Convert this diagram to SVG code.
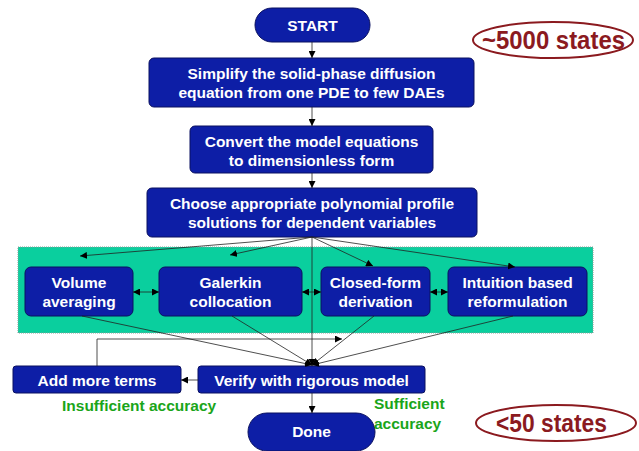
<svg xmlns="http://www.w3.org/2000/svg" width="639" height="451" viewBox="0 0 639 451">
<style>
.box{fill:#0d1ea6;stroke:#0a1060;stroke-width:1}
.t{font-family:"Liberation Sans",Arial,sans-serif;font-weight:bold;font-size:15.5px;fill:#fff;text-anchor:middle}
.g{font-family:"Liberation Sans",Arial,sans-serif;font-weight:bold;font-size:15.5px;fill:#1aa51a}
.r{font-family:"Liberation Sans",Arial,sans-serif;font-weight:bold;font-size:26px;fill:#8b1a1f}
.c{stroke:#222;stroke-width:0.8;fill:none}
</style>
<defs>
<marker id="a" viewBox="0 0 10 10" refX="10" refY="5" markerWidth="7" markerHeight="7" orient="auto-start-reverse" markerUnits="userSpaceOnUse"><path d="M0,0L10,5L0,10z" fill="#000"/></marker>
</defs>
<rect x="18" y="247" width="575" height="86" fill="#0acf9e" stroke="#8a9a96" stroke-width="1" stroke-dasharray="1,1"/>
<g id="start"><rect class="box" x="255" y="8" width="115" height="34" rx="17"/><text class="t" x="312.5" y="31">START</text></g>
<g id="simplify"><rect class="box" x="149" y="58" width="325" height="49" rx="5"/><text class="t" x="311.5" y="79">Simplify the solid-phase diffusion</text><text class="t" x="311.5" y="98">equation from one PDE to few DAEs</text></g>
<g id="convert"><rect class="box" x="190" y="126" width="243" height="47" rx="5"/><text class="t" x="311.5" y="147">Convert the model equations</text><text class="t" x="311.5" y="166">to dimensionless form</text></g>
<g id="choose"><rect class="box" x="147" y="188" width="330" height="49" rx="5"/><text class="t" x="312" y="209">Choose appropriate polynomial profile</text><text class="t" x="312" y="228">solutions for dependent variables</text></g>
<g id="volume"><rect class="box" x="25" y="267" width="108" height="49" rx="6"/><text class="t" x="79" y="288">Volume</text><text class="t" x="79" y="307">averaging</text></g>
<g id="galerkin"><rect class="box" x="159" y="267" width="143" height="49" rx="6"/><text class="t" x="230.5" y="288">Galerkin</text><text class="t" x="230.5" y="307">collocation</text></g>
<g id="closed"><rect class="box" x="321" y="267" width="109" height="49" rx="6"/><text class="t" x="375.5" y="288">Closed-form</text><text class="t" x="375.5" y="307">derivation</text></g>
<g id="intuition"><rect class="box" x="448" y="267" width="139" height="49" rx="6"/><text class="t" x="517.5" y="288">Intuition based</text><text class="t" x="517.5" y="307">reformulation</text></g>
<g id="add"><rect class="box" x="13" y="366" width="168" height="27" rx="3"/><text class="t" x="97" y="385.5">Add more terms</text></g>
<g id="verify"><rect class="box" x="198" y="366" width="227" height="27" rx="3"/><text class="t" x="311.5" y="385.5">Verify with rigorous model</text></g>
<g id="done"><rect class="box" x="248" y="413" width="127" height="38" rx="19"/><text class="t" x="311.5" y="437">Done</text></g>
<g id="labels">
<text class="g" x="62" y="411">Insufficient accuracy</text>
<text class="g" x="374" y="409">Sufficient</text>
<text class="g" x="374" y="429">accuracy</text>
</g>
<g id="ann5000"><ellipse cx="553" cy="40" rx="80" ry="18" fill="#fff" stroke="#8b1a1f" stroke-width="2"/><text class="r" x="482" y="49" textLength="143" lengthAdjust="spacingAndGlyphs">~5000 states</text></g>
<g id="ann50"><ellipse cx="556" cy="423" rx="80" ry="18" fill="#fff" stroke="#8b1a1f" stroke-width="2"/><text class="r" x="496" y="432" textLength="111" lengthAdjust="spacingAndGlyphs">&lt;50 states</text></g>
<g id="connectors">
<line class="c" x1="312" y1="42" x2="312" y2="58" marker-end="url(#a)"/>
<line class="c" x1="312" y1="107" x2="312" y2="126" marker-end="url(#a)"/>
<line class="c" x1="312" y1="173" x2="312" y2="188" marker-end="url(#a)"/>
<line class="c" x1="312" y1="237" x2="80" y2="256" marker-end="url(#a)"/>
<line class="c" x1="312" y1="237" x2="230" y2="255" marker-end="url(#a)"/>
<line class="c" x1="312" y1="237" x2="373" y2="266" marker-end="url(#a)"/>
<line class="c" x1="312" y1="237" x2="515" y2="267" marker-end="url(#a)"/>
<line class="c" x1="133" y1="292" x2="159" y2="292" marker-start="url(#a)" marker-end="url(#a)"/>
<line class="c" x1="302" y1="292" x2="321" y2="292" marker-start="url(#a)" marker-end="url(#a)"/>
<line class="c" x1="430" y1="292" x2="448" y2="292" marker-start="url(#a)" marker-end="url(#a)"/>
<line class="c" x1="312" y1="237" x2="312" y2="366" marker-end="url(#a)"/>
<line class="c" x1="82" y1="316" x2="312" y2="365" marker-end="url(#a)"/>
<line class="c" x1="232" y1="316" x2="312" y2="365" marker-end="url(#a)"/>
<line class="c" x1="374" y1="316" x2="312" y2="365" marker-end="url(#a)"/>
<line class="c" x1="513" y1="316" x2="312" y2="365" marker-end="url(#a)"/>
<polyline class="c" points="97,366 97,339 342,339" marker-end="url(#a)"/>
<line class="c" x1="198" y1="380" x2="181" y2="380" marker-end="url(#a)"/>
<line class="c" x1="312" y1="393" x2="312" y2="413" marker-end="url(#a)"/>
</g>
</svg>
